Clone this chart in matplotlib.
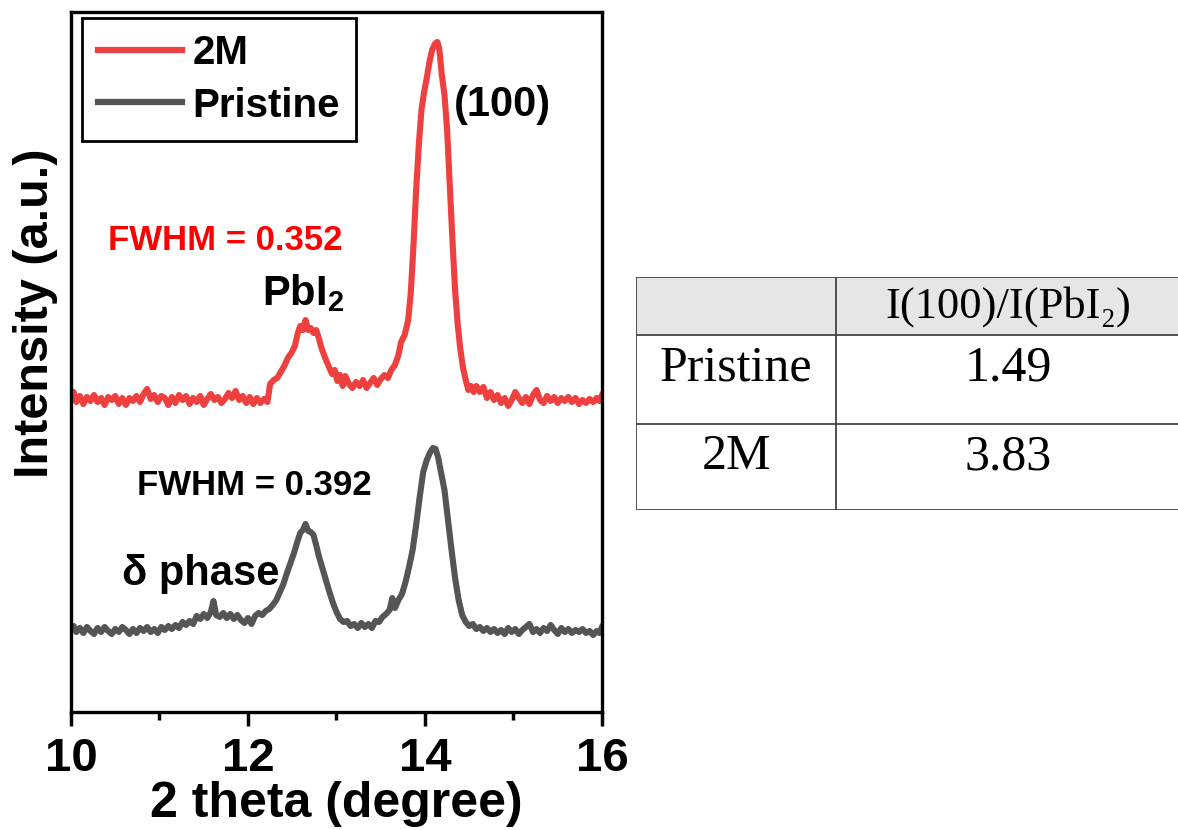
import matplotlib
matplotlib.use("Agg")
import matplotlib.pyplot as plt
from matplotlib.lines import Line2D

# XRD scans, 2 theta in degrees, intensity in a.u.
theta_2m = [10.00, 10.03, 10.06, 10.10, 10.14, 10.18, 10.22, 10.26, 10.30, 10.34,
            10.38, 10.42, 10.46, 10.50, 10.54, 10.58, 10.62, 10.66, 10.70, 10.74,
            10.78, 10.82, 10.86, 10.90, 10.94, 10.98, 11.02, 11.06, 11.10, 11.14,
            11.18, 11.22, 11.26, 11.30, 11.34, 11.38, 11.42, 11.46, 11.50, 11.54,
            11.58, 11.62, 11.66, 11.70, 11.74, 11.78, 11.82, 11.86, 11.90, 11.94,
            11.98, 12.02, 12.06, 12.10, 12.14, 12.18, 12.22, 12.25, 12.29, 12.33,
            12.37, 12.41, 12.45, 12.49, 12.53, 12.56, 12.59, 12.62, 12.65, 12.68,
            12.71, 12.74, 12.77, 12.80, 12.83, 12.86, 12.89, 12.92, 12.95, 12.98,
            13.01, 13.04, 13.07, 13.10, 13.14, 13.18, 13.22, 13.26, 13.30, 13.34,
            13.38, 13.42, 13.46, 13.50, 13.54, 13.58, 13.62, 13.66, 13.70, 13.73,
            13.77, 13.81, 13.84, 13.87, 13.90, 13.93, 13.96, 13.99, 14.02, 14.05,
            14.08, 14.11, 14.14, 14.16, 14.19, 14.22, 14.25, 14.28, 14.31, 14.34,
            14.37, 14.40, 14.43, 14.46, 14.49, 14.52, 14.55, 14.58, 14.62, 14.66,
            14.70, 14.74, 14.78, 14.82, 14.86, 14.90, 14.94, 14.98, 15.02, 15.06,
            15.10, 15.14, 15.18, 15.22, 15.26, 15.30, 15.34, 15.38, 15.42, 15.46,
            15.50, 15.54, 15.58, 15.62, 15.66, 15.70, 15.74, 15.78, 15.82, 15.86,
            15.90, 15.94, 15.97, 16.00]
int_2m = [84, 90, 80, 86, 78, 85, 81, 87, 80, 84,
          77, 85, 82, 86, 78, 84, 77, 84, 81, 86,
          80, 88, 93, 83, 87, 80, 86, 84, 77, 85,
          79, 87, 82, 86, 78, 84, 80, 86, 77, 83,
          88, 82, 85, 79, 83, 89, 84, 91, 82, 86,
          79, 85, 78, 84, 79, 83, 80, 98, 102, 104,
          110, 116, 124, 129, 136, 148, 156, 152, 162, 152,
          154, 149, 152, 144, 134, 127, 120, 114, 108, 112,
          101, 107, 96, 106, 98, 94, 100, 96, 102, 94,
          99, 104, 97, 103, 107, 104, 112, 117, 127, 140,
          147, 162, 190, 237, 292, 337, 372, 390, 404, 420,
          432, 438, 440, 434, 407, 387, 352, 297, 242, 192,
          157, 132, 114, 102, 92, 96, 90, 96, 90, 95,
          84, 90, 82, 87, 79, 84, 76, 82, 90, 84,
          79, 85, 78, 87, 92, 82, 79, 86, 81, 85,
          79, 84, 81, 85, 80, 84, 78, 82, 79, 83,
          80, 84, 81, 87]

theta_pristine = [10.00, 10.03, 10.06, 10.10, 10.14, 10.18, 10.22, 10.26, 10.30, 10.34,
                  10.38, 10.42, 10.46, 10.50, 10.54, 10.58, 10.62, 10.66, 10.70, 10.74,
                  10.78, 10.82, 10.86, 10.90, 10.94, 10.98, 11.02, 11.06, 11.10, 11.14,
                  11.18, 11.22, 11.26, 11.30, 11.34, 11.38, 11.42, 11.46, 11.50, 11.54,
                  11.58, 11.61, 11.64, 11.68, 11.72, 11.76, 11.80, 11.84, 11.88, 11.92,
                  11.96, 12.00, 12.04, 12.08, 12.12, 12.16, 12.20, 12.24, 12.28, 12.32,
                  12.36, 12.40, 12.44, 12.48, 12.52, 12.56, 12.59, 12.62, 12.65, 12.68,
                  12.71, 12.74, 12.77, 12.80, 12.84, 12.88, 12.92, 12.96, 13.00, 13.04,
                  13.08, 13.12, 13.16, 13.20, 13.24, 13.28, 13.32, 13.36, 13.40, 13.44,
                  13.48, 13.52, 13.56, 13.60, 13.63, 13.66, 13.70, 13.74, 13.78, 13.82,
                  13.86, 13.90, 13.94, 13.98, 14.02, 14.06, 14.09, 14.12, 14.15, 14.18,
                  14.22, 14.26, 14.30, 14.34, 14.38, 14.42, 14.46, 14.50, 14.54, 14.58,
                  14.62, 14.66, 14.70, 14.74, 14.78, 14.82, 14.86, 14.90, 14.94, 14.98,
                  15.02, 15.06, 15.10, 15.14, 15.18, 15.22, 15.26, 15.30, 15.34, 15.38,
                  15.42, 15.46, 15.50, 15.54, 15.58, 15.62, 15.66, 15.70, 15.74, 15.78,
                  15.82, 15.86, 15.90, 15.94, 15.97, 16.00]
int_pristine = [82, 86, 80, 84, 79, 85, 81, 78, 84, 80,
                85, 81, 78, 83, 80, 85, 82, 78, 83, 79,
                84, 81, 85, 80, 83, 79, 85, 82, 86, 83,
                87, 84, 90, 87, 91, 88, 96, 93, 98, 94,
                100, 111, 97, 95, 99, 94, 98, 93, 97, 92,
                89, 94, 88, 96, 99, 97, 101, 103, 107, 112,
                120, 128, 139, 149, 159, 171, 179, 182, 188, 181,
                180, 177, 167, 156, 144, 132, 120, 109, 100, 93,
                90, 91, 86, 88, 84, 89, 85, 88, 84, 91,
                90, 95, 98, 102, 114, 104, 112, 118, 130, 145,
                162, 187, 215, 240, 252, 260, 264, 263, 254, 240,
                222, 192, 162, 134, 112, 97, 90, 86, 88, 83,
                85, 81, 84, 80, 83, 79, 82, 78, 84, 80,
                83, 78, 82, 85, 88, 80, 83, 79, 84, 81,
                87, 82, 78, 84, 80, 83, 79, 82, 80, 83,
                79, 81, 77, 81, 79, 85]

# vertical shift used to stack the 2M scan above the pristine one
offset_2m = 230

series_labels = ["2M", "Pristine"]
series_colors = ["#ef4040", "#555555"]

# intensity ratio table
table_header = ["", "I(100)/I(PbI\u2082)"]
sample_names = ["Pristine", "2M"]
ratio_values = [1.49, 3.83]

plt.rcParams["mathtext.fontset"] = "custom"
plt.rcParams["mathtext.rm"] = "Liberation Sans:bold"
plt.rcParams["mathtext.bf"] = "Liberation Sans:bold"

sans = ["Liberation Sans", "DejaVu Sans"]
serif = ["Liberation Serif", "DejaVu Serif"]

fig = plt.figure(figsize=(11.78, 8.30), dpi=100)
ax = fig.add_axes([71 / 1178, 118 / 830, 531 / 1178, 700 / 830])

ax.plot(theta_2m, [v + offset_2m for v in int_2m], color=series_colors[0],
        lw=4.4, solid_joinstyle="round")
ax.plot(theta_pristine, int_pristine, color=series_colors[1],
        lw=4.4, solid_joinstyle="round")

ax.set_xlim(10, 16)
ax.set_ylim(0, 700)
ax.set_yticks([])
ax.set_xticks([10, 12, 14, 16])
ax.set_xticks([11, 13, 15], minor=True)
ax.tick_params(axis="x", which="major", direction="out", length=10, width=2.5, pad=8)
ax.tick_params(axis="x", which="minor", direction="out", length=6, width=2.5)
for lab in ax.get_xticklabels():
    lab.set_family(sans)
    lab.set_fontweight("bold")
    lab.set_fontsize(34)
for sp in ax.spines.values():
    sp.set_linewidth(2.4)

ax.set_xlabel("2 theta (degree)", family=sans, fontweight="bold", fontsize=36, labelpad=0)
ax.set_ylabel("Intensity (a.u.)", family=sans, fontweight="bold", fontsize=35)
ax.yaxis.set_label_coords(-0.024, 0.57)

# legend
handles = [Line2D([], [], color=c, lw=4.5) for c in series_colors]
leg = ax.legend(handles, series_labels, loc="upper left", bbox_to_anchor=(0.02, 0.991),
                borderaxespad=0, fancybox=False, framealpha=1, edgecolor="black",
                handlelength=2.1, handletextpad=0.25, labelspacing=0.35, borderpad=0.4,
                prop={"family": sans, "weight": "bold", "size": 29})
leg.get_frame().set_linewidth(2)

# peak annotations
ax.text(14.87, 607, "(100)", family=sans, fontweight="bold", fontsize=30,
        ha="center", va="center")
ax.text(11.74, 472, "FWHM = 0.352", family=sans, fontweight="bold", fontsize=25,
        color="#ff0000", ha="center", va="center")
ax.text(12.16, 407, r"PbI$_\mathbf{2}$", family=sans, fontweight="bold", fontsize=30,
        ha="left", va="baseline")
ax.text(12.07, 227, "FWHM = 0.392", family=sans, fontweight="bold", fontsize=25,
        ha="center", va="center")
ax.text(11.46, 138, "\u03b4 phase", family=sans, fontweight="bold", fontsize=30,
        ha="center", va="center")

# ratio table drawn in its own pixel-like frame
tx = fig.add_axes([636 / 1178, 320 / 830, 545 / 1178, 233 / 830])
tx.set_xlim(0, 545)
tx.set_ylim(233, 0)
tx.axis("off")
col_edges = [0, 200, 545]
row_edges = [0, 58, 147, 233]
tx.fill_between([0, 545], 0, 58, color="#e6e6e6", lw=0)
line_kw = dict(color="#444444", lw=1.3)
for y in row_edges:
    tx.plot([0, 545], [y, y], **line_kw)
for x in col_edges[:2]:
    tx.plot([x, x], [0, 233], **line_kw)

tx.text((col_edges[1] + col_edges[2]) / 2, 30, table_header[1], family=serif,
        fontsize=32, ha="center", va="center")
for i, (name, val) in enumerate(zip(sample_names, ratio_values)):
    yc = row_edges[i + 1] + 33
    tx.text(col_edges[1] / 2, yc, name, family=serif, fontsize=36, ha="center", va="center")
    tx.text((col_edges[1] + col_edges[2]) / 2, yc, f"{val:.2f}", family=serif,
            fontsize=36, ha="center", va="center")

fig.savefig("out.png", dpi=100)
